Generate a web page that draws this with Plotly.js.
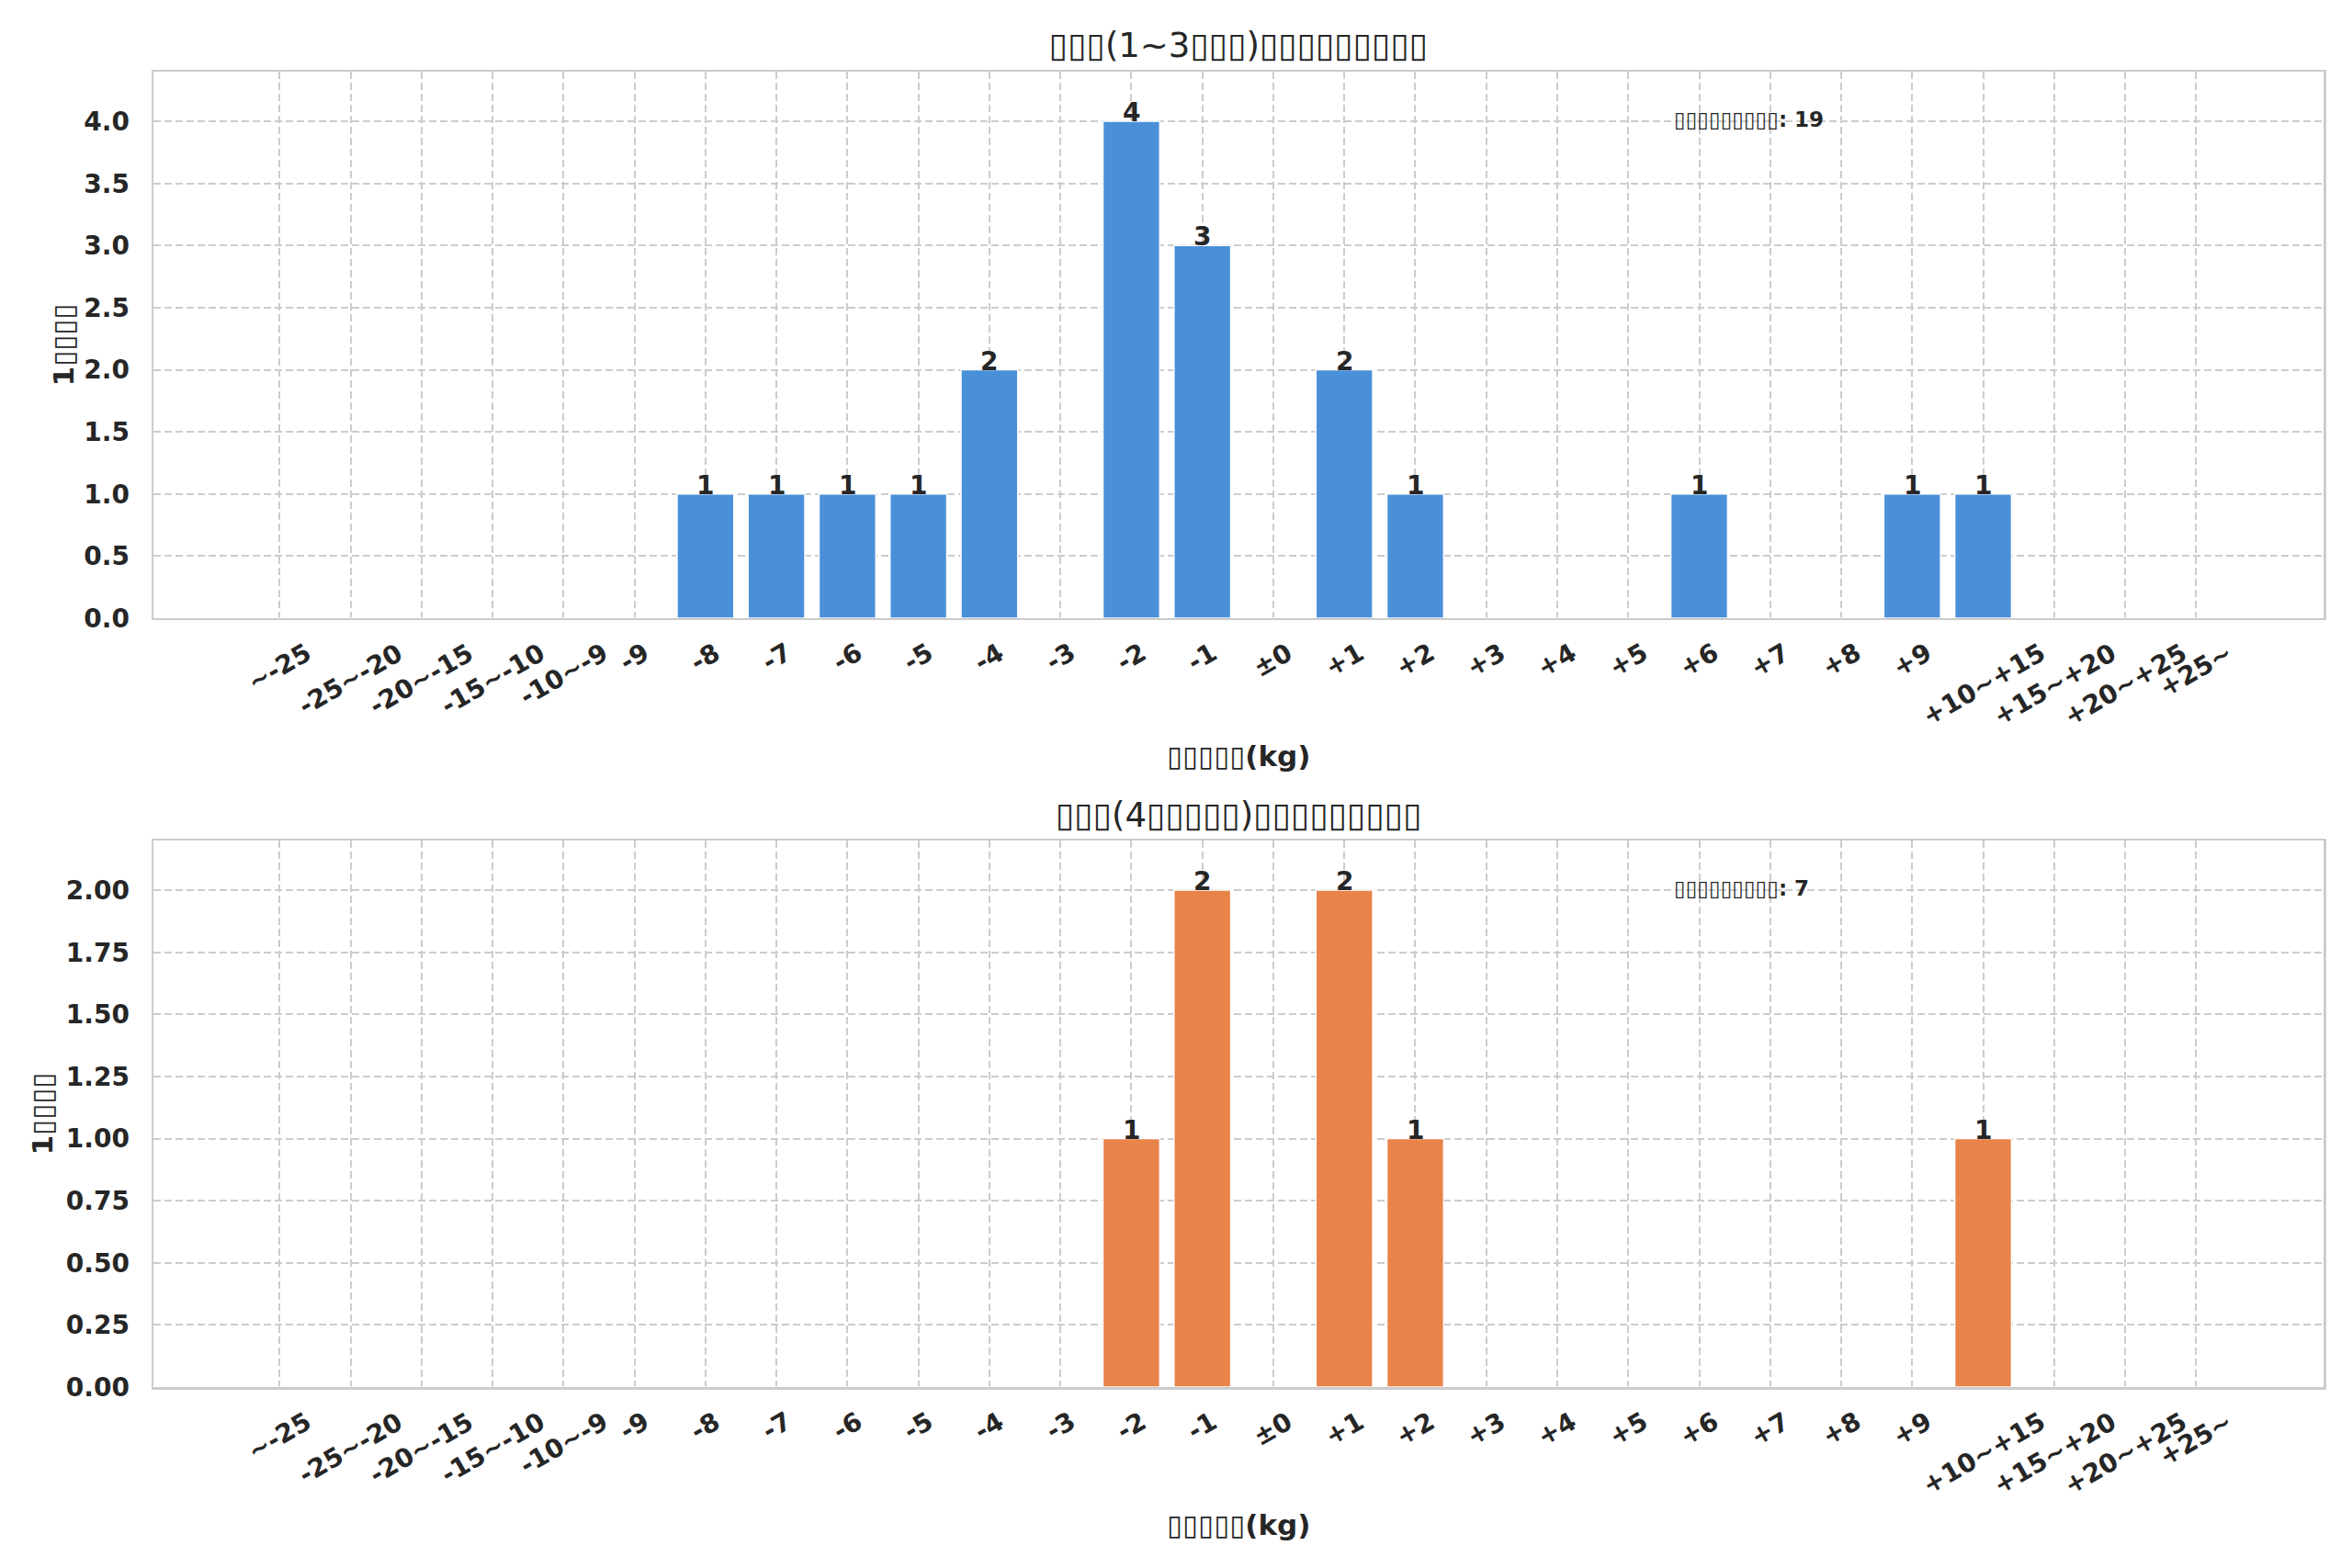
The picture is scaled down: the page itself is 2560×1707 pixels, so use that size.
<!DOCTYPE html>
<html>
<head>
<meta charset="utf-8">
<script src="https://cdn.plot.ly/plotly-3.0.1.min.js"></script>
<style>html,body{margin:0;padding:0;background:#fff;}#chart{width:2560px;height:1707px;}</style>
</head>
<body>
<div id="chart"></div>
<script>
// ---- data ----
const categories = ["~-25","-25~-20","-20~-15","-15~-10","-10~-9","-9","-8","-7","-6","-5","-4","-3","-2","-1","±0","+1","+2","+3","+4","+5","+6","+7","+8","+9","+10~+15","+15~+20","+20~+25","+25~"];
const shortCounts = [0,0,0,0,0,0,1,1,1,1,2,0,4,3,0,2,1,0,0,0,1,0,0,1,1,0,0,0];
const longCounts  = [0,0,0,0,0,0,0,0,0,0,0,0,1,2,0,2,1,0,0,0,0,0,0,0,1,0,0,0];
const titleTop = "▯▯▯(1~3▯▯▯)▯▯▯▯▯▯▯▯▯";
const titleBottom = "▯▯▯(4▯▯▯▯▯)▯▯▯▯▯▯▯▯▯";
const xLabel = "▯▯▯▯▯(kg)";
const yLabel = "1▯▯▯▯";
const totalLabel = "▯▯▯▯▯▯▯▯▯";
const topTicks = [0,0.5,1,1.5,2,2.5,3,3.5,4];
const bottomTicks = [0,0.25,0.5,0.75,1,1.25,1.5,1.75,2];

// ---- styling ----
const FONT = "DejaVu Sans";
const TXT = "#262626";
const GRID = "#cccccc";
const blue = "#4a90d9";
const orange = "#e8844a";

const xRange = [-1.777, 28.795];
const idx = categories.map(function (c, i) { return i; });

function xaxisDef(anchor) {
  return {
    type: "linear", anchor: anchor, range: xRange,
    tickvals: idx, ticktext: categories,
    showticklabels: false, ticks: "",
    showgrid: true, gridcolor: GRID, gridwidth: 2, griddash: "8px,4px",
    showline: true, linecolor: GRID, linewidth: 2.5, mirror: true,
    zeroline: false, fixedrange: true
  };
}
function yaxisDef(anchor, domain, ticks, fmt, maxv) {
  return {
    anchor: anchor, domain: domain, range: [0, maxv],
    tickvals: ticks, tickformat: fmt,
    tickfont: {family: FONT, size: 28, color: TXT, weight: "bold"},
    ticks: "", ticklabelstandoff: 18,
    showgrid: true, gridcolor: GRID, gridwidth: 2, griddash: "8px,4px",
    showline: true, linecolor: GRID, linewidth: 2.5, mirror: true,
    zeroline: false, fixedrange: true
  };
}

const traces = [
  {type: "bar", x: idx, y: shortCounts, xaxis: "x", yaxis: "y", width: 0.8,
   marker: {color: blue, line: {color: "#ffffff", width: 1.5}}, hoverinfo: "none"},
  {type: "bar", x: idx, y: longCounts, xaxis: "x2", yaxis: "y2", width: 0.8,
   marker: {color: orange, line: {color: "#ffffff", width: 1.5}}, hoverinfo: "none"}
];

const annotations = [];
function addPanel(counts, xr, yr) {
  // rotated category labels, centered under each tick (rotated box top aligned)
  categories.forEach(function (c, i) {
    annotations.push({x: i, xref: xr, y: 0, yref: yr + " domain", text: "<b>" + c + "</b>",
      textangle: -30, xanchor: "center", yanchor: "top", yshift: -18, showarrow: false,
      font: {family: FONT, size: 28, color: TXT}});
  });
  // value labels
  counts.forEach(function (v, i) {
    if (v > 0) {
      annotations.push({x: i, xref: xr, y: v, yref: yr, text: "<b>" + v + "</b>",
        xanchor: "center", yanchor: "bottom", yshift: -9, showarrow: false,
        font: {family: FONT, size: 28, color: TXT}});
    }
  });
  const total = counts.reduce(function (a, b) { return a + b; }, 0);
  annotations.push({x: 0.70, xref: xr + " domain", y: 0.912, yref: yr + " domain",
    text: "<b>" + totalLabel + ": " + total + "</b>", xanchor: "left", yanchor: "middle",
    showarrow: false, font: {family: FONT, size: 23, color: TXT}});
}
addPanel(shortCounts, "x", "y");
addPanel(longCounts, "x2", "y2");

// titles and axis labels
annotations.push({x: 0.5, xref: "paper", y: 0.4347, yref: "paper", text: titleBottom,
  xanchor: "center", yanchor: "middle", showarrow: false, font: {family: FONT, size: 37, color: TXT}});
annotations.push({x: 0.5, xref: "paper", y: 0.4797, yref: "paper", text: "<b>" + xLabel + "</b>",
  xanchor: "center", yanchor: "middle", showarrow: false, font: {family: FONT, size: 31, color: TXT}});
annotations.push({x: 0.5, xref: "paper", y: -0.1047, yref: "paper", text: "<b>" + xLabel + "</b>",
  xanchor: "center", yanchor: "middle", showarrow: false, font: {family: FONT, size: 31, color: TXT}});
annotations.push({x: -0.0415, xref: "paper", y: 0.7923, yref: "paper", text: "<b>" + yLabel + "</b>",
  textangle: -90, xanchor: "center", yanchor: "middle", showarrow: false, font: {family: FONT, size: 31, color: TXT}});
annotations.push({x: -0.0512, xref: "paper", y: 0.2078, yref: "paper", text: "<b>" + yLabel + "</b>",
  textangle: -90, xanchor: "center", yanchor: "middle", showarrow: false, font: {family: FONT, size: 31, color: TXT}});

const layout = {
  width: 2560, height: 1707,
  margin: {l: 167, r: 31, t: 78, b: 197, pad: 0},
  paper_bgcolor: "#ffffff", plot_bgcolor: "#ffffff",
  showlegend: false, bargap: 0,
  title: {text: titleTop, font: {family: FONT, size: 37, color: TXT},
    xref: "paper", x: 0.5, xanchor: "center", yref: "container", y: 1 - 49 / 1707, yanchor: "middle"},
  xaxis: xaxisDef("y"),
  yaxis: yaxisDef("x", [0.5845, 1], topTicks, ".1f", 4.4),
  xaxis2: xaxisDef("y2"),
  yaxis2: yaxisDef("x2", [0, 0.4155], bottomTicks, ".2f", 2.2),
  annotations: annotations
};

Plotly.newPlot("chart", traces, layout, {staticPlot: true, displayModeBar: false});
</script>
</body>
</html>
